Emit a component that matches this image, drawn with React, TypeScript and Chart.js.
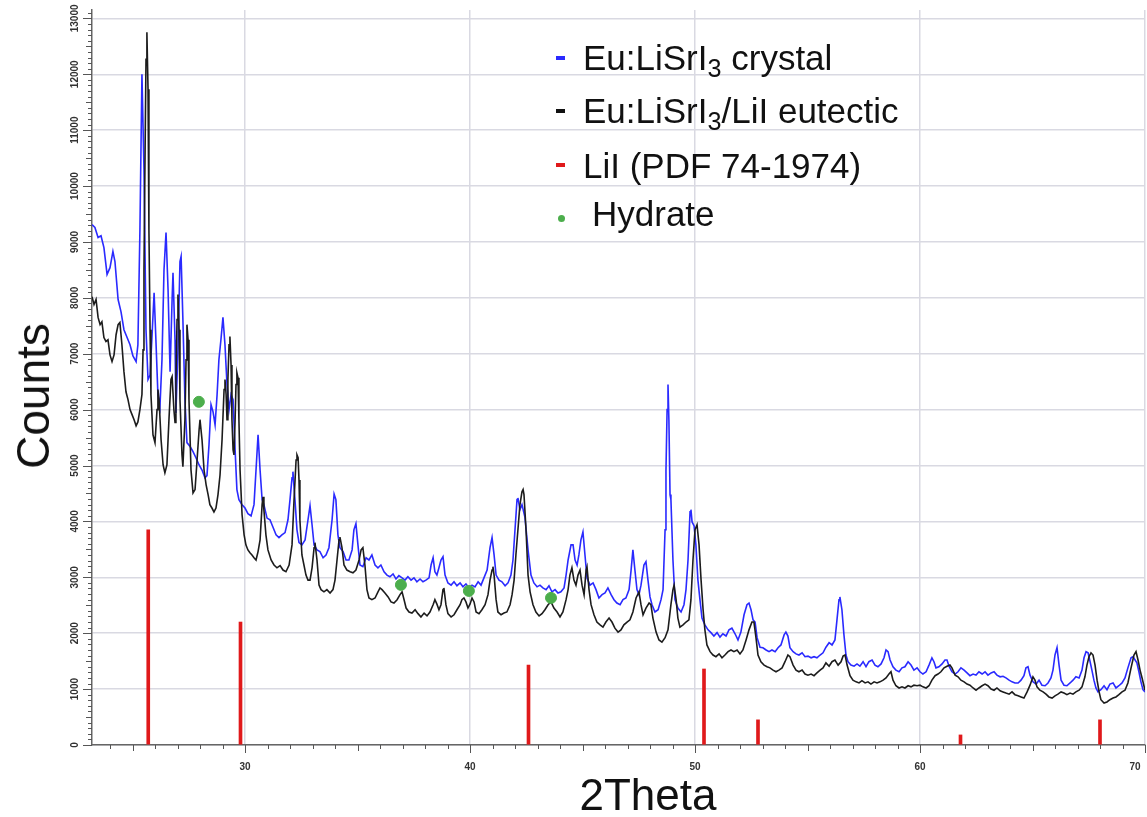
import React, { useEffect, useRef } from "react";
import { Chart, registerables } from "chart.js";

Chart.register(...registerables);

// ---------------- data ----------------
const X_MIN = 23.2;
const X_MAX = 70;
const Y_MIN = 0;
const Y_MAX = 13150;

const xTickValues = [30, 40, 50, 60, 70];
const yTickValues = [0, 1000, 2000, 3000, 4000, 5000, 6000, 7000, 8000, 9000, 10000, 11000, 12000, 13000];

// Eu:LiSrI3 crystal  [2theta, counts]
const crystalData: [number, number][] = [
  [23.20,9310],[23.33,9260],[23.47,9080],[23.60,9110],[23.73,8900],[23.87,8420],[24.00,8540],[24.13,8830],[24.22,8650],[24.36,7970],
  [24.49,7750],[24.62,7430],[24.76,7290],[24.89,7160],[25.02,6960],[25.16,6860],[25.24,7160],[25.33,9220],[25.42,12000],[25.51,10300],
  [25.60,7430],[25.69,6540],[25.78,6620],[25.87,7340],[25.96,8090],[26.04,7250],[26.13,6270],[26.22,6050],[26.31,6890],[26.40,8500],
  [26.49,9170],[26.58,8150],[26.67,6680],[26.76,7970],[26.80,8450],[26.89,7250],[26.93,5940],[27.02,7070],[27.11,8650],[27.16,8740],
  [27.24,7610],[27.33,6180],[27.42,5410],[27.56,5340],[27.69,5250],[27.82,5140],[27.96,5010],[28.09,4920],[28.22,4780],[28.31,4820],
  [28.40,5370],[28.49,6090],[28.58,5960],[28.67,5730],[28.76,6270],[28.84,6890],[28.93,7250],[29.02,7650],[29.11,7160],[29.20,6450],
  [29.29,6000],[29.38,6270],[29.47,6180],[29.56,5280],[29.64,4570],[29.73,4390],[29.87,4300],[30.00,4240],[30.13,4140],[30.27,4100],
  [30.40,4300],[30.49,4920],[30.58,5550],[30.67,4920],[30.76,4390],[30.84,4300],[30.98,4060],[31.11,4030],[31.24,3900],[31.38,3760],
  [31.51,3710],[31.64,3760],[31.78,3800],[31.91,4030],[32.00,4390],[32.09,4780],[32.13,4890],[32.22,4390],[32.31,3850],[32.40,3620],
  [32.53,3580],[32.67,3670],[32.80,4030],[32.89,4280],[32.98,3940],[33.07,3580],[33.20,3490],[33.33,3460],[33.47,3350],[33.60,3400],
  [33.73,3530],[33.87,4030],[33.96,4490],[34.04,4390],[34.13,3760],[34.22,3530],[34.36,3460],[34.49,3310],[34.62,3310],[34.76,3490],
  [34.84,3850],[34.93,3960],[35.02,3580],[35.11,3220],[35.24,3190],[35.38,3350],[35.51,3310],[35.64,3400],[35.78,3220],[35.91,3170],
  [36.04,3220],[36.18,3100],[36.31,3040],[36.44,3010],[36.58,3060],[36.71,2970],[36.84,3030],[36.98,2990],[37.11,2950],[37.24,3010],
  [37.38,2950],[37.51,2990],[37.64,2920],[37.78,2970],[37.91,2920],[38.04,2950],[38.18,2990],[38.27,3220],[38.36,3350],[38.44,3100],
  [38.53,3040],[38.62,3170],[38.71,3310],[38.80,3370],[38.89,3040],[39.02,2900],[39.16,2860],[39.29,2920],[39.42,2850],[39.56,2900],
  [39.69,2830],[39.82,2880],[39.96,2810],[40.09,2860],[40.22,2830],[40.36,2920],[40.49,2860],[40.62,2990],[40.76,3130],[40.89,3530],
  [40.98,3710],[41.07,3400],[41.16,3040],[41.29,2950],[41.42,2920],[41.56,2850],[41.69,2900],[41.82,3040],[41.91,3310],[42.00,3850],
  [42.09,4390],[42.13,4420],[42.22,4210],[42.31,4300],[42.44,4080],[42.58,3490],[42.71,3040],[42.84,2900],[42.98,2830],[43.11,2860],
  [43.24,2810],[43.38,2780],[43.51,2850],[43.64,2740],[43.78,2780],[43.91,2720],[44.04,2740],[44.18,2810],[44.27,3040],[44.36,3310],
  [44.49,3580],[44.58,3580],[44.67,3310],[44.76,3220],[44.84,3400],[44.93,3670],[45.02,3810],[45.11,3400],[45.20,2990],[45.33,2860],
  [45.47,2900],[45.60,2780],[45.73,2630],[45.87,2690],[46.00,2720],[46.13,2810],[46.27,2690],[46.40,2600],[46.53,2540],[46.67,2510],
  [46.80,2600],[46.93,2630],[47.07,2780],[47.16,3130],[47.24,3490],[47.33,3130],[47.42,2780],[47.51,2690],[47.60,2860],[47.73,3220],
  [47.82,3280],[47.91,2950],[48.00,2650],[48.09,2510],[48.22,2380],[48.36,2420],[48.49,2600],[48.58,2780],[48.67,3850],[48.71,4920],
  [48.76,6000],[48.80,6450],[48.84,5820],[48.89,4480],[48.93,4390],[49.02,3310],[49.11,2600],[49.24,2450],[49.38,2380],[49.51,2510],
  [49.60,2780],[49.69,3310],[49.78,4170],[49.82,4210],[49.87,3990],[49.96,3920],[50.04,3580],[50.13,2950],[50.22,2600],[50.31,2270],
  [50.44,2150],[50.58,2060],[50.71,2010],[50.84,1950],[50.98,2010],[51.11,1930],[51.24,1990],[51.38,1950],[51.51,2060],[51.64,2090],
  [51.78,1990],[51.91,1880],[52.04,2020],[52.18,2330],[52.31,2510],[52.40,2540],[52.49,2420],[52.58,2240],[52.67,2200],[52.76,1920],
  [52.89,1750],[53.02,1740],[53.16,1700],[53.29,1670],[53.42,1700],[53.56,1670],[53.69,1740],[53.82,1790],[53.96,1970],[54.04,2020],
  [54.13,1950],[54.22,1740],[54.36,1670],[54.49,1630],[54.62,1610],[54.76,1650],[54.89,1580],[55.02,1590],[55.16,1560],[55.29,1580],
  [55.42,1560],[55.56,1610],[55.69,1650],[55.82,1750],[55.96,1830],[56.09,1790],[56.22,1880],[56.31,2240],[56.40,2600],[56.44,2650],
  [56.53,2420],[56.62,1970],[56.71,1610],[56.80,1490],[56.93,1430],[57.07,1410],[57.20,1450],[57.33,1410],[57.47,1490],[57.60,1400],
  [57.73,1490],[57.87,1520],[58.00,1430],[58.13,1400],[58.27,1450],[58.40,1560],[58.49,1700],[58.58,1670],[58.67,1520],[58.80,1400],
  [58.93,1340],[59.07,1310],[59.20,1380],[59.33,1400],[59.47,1490],[59.60,1430],[59.73,1340],[59.87,1380],[60.00,1310],[60.13,1270],
  [60.27,1310],[60.40,1430],[60.53,1560],[60.62,1490],[60.71,1380],[60.84,1400],[60.98,1450],[61.11,1520],[61.20,1520],[61.29,1410],
  [61.42,1310],[61.56,1270],[61.69,1310],[61.82,1380],[61.96,1340],[62.09,1290],[62.22,1240],[62.36,1270],[62.49,1250],[62.62,1310],
  [62.76,1270],[62.89,1310],[63.02,1250],[63.16,1290],[63.29,1310],[63.42,1250],[63.56,1220],[63.69,1230],[63.82,1200],[63.96,1160],
  [64.09,1130],[64.22,1110],[64.36,1110],[64.49,1160],[64.62,1240],[64.71,1380],[64.80,1400],[64.89,1250],[65.02,1130],[65.16,1090],
  [65.29,1160],[65.42,1070],[65.56,1060],[65.69,1110],[65.82,1200],[65.91,1340],[66.00,1610],[66.09,1740],[66.18,1430],[66.27,1160],
  [66.40,1070],[66.53,1060],[66.67,1110],[66.80,1160],[66.93,1220],[67.07,1200],[67.20,1340],[67.29,1560],[67.38,1670],[67.47,1650],
  [67.56,1490],[67.64,1340],[67.73,1160],[67.82,1020],[67.91,950],[68.04,990],[68.18,1060],[68.31,990],[68.44,1090],[68.58,1110],
  [68.71,1020],[68.84,1060],[68.98,1110],[69.11,1200],[69.24,1380],[69.38,1560],[69.47,1580],[69.56,1520],[69.64,1470],[69.73,1310],
  [69.82,1130],[69.91,990],[70.00,950],
];

// Eu:LiSrI3/LiI eutectic  [2theta, counts]
const eutecticData: [number, number][] = [
  [23.20,8020],[23.29,7880],[23.38,7970],[23.47,7650],[23.56,7520],[23.64,7570],[23.73,7290],[23.82,7220],[23.91,7250],[24.00,6980],
  [24.09,6860],[24.18,6980],[24.27,7340],[24.36,7520],[24.44,7560],[24.53,7160],[24.62,6680],[24.71,6320],[24.80,6180],[24.89,6000],
  [24.98,5910],[25.07,5820],[25.16,5710],[25.24,5780],[25.33,6000],[25.42,6270],[25.47,7070],[25.51,8500],[25.56,10650],[25.60,12270],
  [25.64,12750],[25.69,11730],[25.73,9220],[25.78,7430],[25.82,6270],[25.91,5550],[26.00,5410],[26.09,6000],[26.13,6360],[26.18,6180],
  [26.27,5460],[26.36,5010],[26.44,4870],[26.53,5010],[26.62,5820],[26.71,6540],[26.76,6590],[26.84,6000],[26.89,5770],[26.93,6540],
  [26.98,7610],[27.02,8060],[27.07,7430],[27.11,6180],[27.20,5190],[27.24,4980],[27.33,5820],[27.38,6890],[27.42,7520],[27.47,7250],
  [27.51,6180],[27.60,4920],[27.69,4510],[27.78,4570],[27.87,5100],[27.96,5640],[28.00,5820],[28.09,5460],[28.18,4920],[28.27,4660],
  [28.36,4480],[28.44,4300],[28.53,4240],[28.62,4170],[28.71,4240],[28.80,4480],[28.89,4830],[28.98,5460],[29.07,6360],[29.11,6540],
  [29.16,6270],[29.20,5820],[29.24,6540],[29.29,7160],[29.33,7310],[29.38,6800],[29.42,5820],[29.47,5280],[29.51,5190],[29.56,5820],
  [29.60,6450],[29.64,6660],[29.69,6570],[29.73,5820],[29.78,4920],[29.87,4120],[29.96,3760],[30.04,3580],[30.13,3490],[30.22,3440],
  [30.31,3400],[30.40,3350],[30.49,3310],[30.58,3460],[30.67,3670],[30.76,4300],[30.80,4440],[30.84,4210],[30.93,3760],[31.02,3490],
  [31.16,3310],[31.29,3220],[31.42,3170],[31.56,3210],[31.69,3130],[31.82,3100],[31.96,3220],[32.09,3580],[32.18,4390],[32.27,5100],
  [32.31,5190],[32.36,5140],[32.40,4740],[32.44,4030],[32.53,3400],[32.62,3220],[32.71,3040],[32.80,2950],[32.89,2950],[32.98,3170],
  [33.07,3530],[33.11,3620],[33.20,3310],[33.29,2860],[33.38,2780],[33.51,2740],[33.64,2780],[33.78,2720],[33.91,2780],[34.00,2950],
  [34.09,3310],[34.18,3670],[34.22,3720],[34.31,3530],[34.40,3220],[34.53,3130],[34.67,3100],[34.80,3080],[34.93,3130],[35.07,3310],
  [35.16,3490],[35.24,3530],[35.33,3220],[35.42,2780],[35.51,2630],[35.64,2600],[35.78,2630],[35.91,2740],[36.00,2810],[36.09,2780],
  [36.22,2720],[36.36,2650],[36.49,2560],[36.62,2540],[36.76,2600],[36.89,2690],[36.98,2740],[37.07,2600],[37.16,2450],[37.29,2380],
  [37.42,2360],[37.56,2420],[37.69,2350],[37.82,2290],[37.96,2360],[38.09,2310],[38.22,2380],[38.36,2510],[38.44,2600],[38.53,2520],
  [38.62,2420],[38.71,2510],[38.80,2780],[38.84,2810],[38.93,2510],[39.02,2350],[39.16,2290],[39.29,2330],[39.42,2420],[39.56,2510],
  [39.64,2600],[39.73,2630],[39.82,2560],[39.91,2450],[40.00,2520],[40.09,2630],[40.18,2560],[40.27,2380],[40.40,2350],[40.53,2420],
  [40.67,2510],[40.80,2690],[40.89,2950],[40.98,3130],[41.02,3190],[41.07,3040],[41.16,2600],[41.24,2380],[41.38,2330],[41.51,2360],
  [41.64,2380],[41.78,2510],[41.87,2690],[41.96,2950],[42.04,3400],[42.13,3850],[42.22,4300],[42.31,4530],[42.36,4570],[42.40,4480],
  [42.49,3850],[42.58,3040],[42.67,2740],[42.80,2510],[42.93,2380],[43.07,2310],[43.20,2350],[43.33,2420],[43.47,2510],[43.60,2560],
  [43.73,2450],[43.87,2380],[44.00,2290],[44.13,2380],[44.27,2600],[44.36,2780],[44.44,3040],[44.53,3170],[44.62,2950],[44.71,2860],
  [44.80,3040],[44.89,3130],[44.98,2860],[45.07,2690],[45.16,3130],[45.20,3190],[45.29,2780],[45.38,2510],[45.51,2330],[45.64,2200],
  [45.78,2150],[45.91,2110],[46.04,2200],[46.18,2270],[46.31,2200],[46.44,2090],[46.58,2020],[46.71,2060],[46.84,2150],[46.98,2200],
  [47.11,2240],[47.24,2380],[47.38,2630],[47.51,2740],[47.60,2510],[47.69,2330],[47.82,2450],[47.96,2540],[48.04,2510],[48.13,2270],
  [48.27,2020],[48.40,1880],[48.53,1840],[48.67,1920],[48.80,2060],[48.93,2510],[49.02,2780],[49.07,2860],[49.16,2600],[49.24,2270],
  [49.33,2110],[49.47,2150],[49.60,2200],[49.73,2240],[49.82,2600],[49.91,3310],[50.00,3850],[50.09,3940],[50.18,3580],[50.27,2950],
  [50.36,2420],[50.44,2060],[50.53,1790],[50.67,1670],[50.80,1610],[50.93,1580],[51.07,1630],[51.20,1560],[51.33,1610],[51.47,1670],
  [51.60,1700],[51.73,1670],[51.87,1700],[52.00,1630],[52.13,1700],[52.27,1880],[52.40,2060],[52.53,2200],[52.62,2200],[52.71,1920],
  [52.80,1610],[52.93,1490],[53.07,1430],[53.20,1400],[53.33,1380],[53.47,1340],[53.60,1310],[53.73,1340],[53.87,1380],[54.00,1490],
  [54.13,1610],[54.22,1580],[54.36,1430],[54.49,1340],[54.62,1310],[54.76,1340],[54.89,1270],[55.02,1250],[55.16,1270],[55.29,1240],
  [55.42,1290],[55.56,1340],[55.69,1380],[55.82,1470],[55.96,1410],[56.09,1490],[56.22,1520],[56.36,1430],[56.49,1490],[56.58,1590],
  [56.67,1610],[56.76,1430],[56.89,1240],[57.02,1160],[57.16,1130],[57.29,1110],[57.42,1150],[57.56,1110],[57.69,1130],[57.82,1090],
  [57.96,1130],[58.09,1110],[58.22,1130],[58.36,1160],[58.49,1200],[58.62,1270],[58.71,1310],[58.80,1160],[58.93,1060],[59.07,1020],
  [59.20,1040],[59.33,1020],[59.47,1060],[59.60,1040],[59.73,1070],[59.87,1060],[60.00,1070],[60.13,1040],[60.27,1020],[60.40,1060],
  [60.53,1160],[60.67,1240],[60.80,1270],[60.93,1310],[61.07,1380],[61.20,1410],[61.33,1430],[61.42,1380],[61.56,1250],[61.69,1220],
  [61.82,1160],[61.96,1130],[62.09,1090],[62.22,1070],[62.36,1020],[62.49,980],[62.62,1020],[62.76,1060],[62.89,1090],[63.02,1060],
  [63.16,1000],[63.29,980],[63.42,1020],[63.56,970],[63.69,950],[63.82,930],[63.96,910],[64.09,950],[64.22,900],[64.36,880],
  [64.49,860],[64.62,840],[64.76,950],[64.89,1070],[65.02,1220],[65.11,1160],[65.20,1040],[65.33,980],[65.47,950],[65.60,910],
  [65.73,860],[65.87,840],[66.00,880],[66.13,910],[66.27,950],[66.40,930],[66.53,900],[66.67,930],[66.80,910],[66.93,950],
  [67.07,980],[67.20,1040],[67.33,1220],[67.42,1430],[67.51,1580],[67.60,1650],[67.69,1610],[67.78,1430],[67.87,1160],[67.96,950],
  [68.04,810],[68.18,750],[68.31,770],[68.44,810],[68.58,840],[68.71,860],[68.84,900],[68.98,950],[69.11,980],[69.24,1110],
  [69.38,1380],[69.51,1610],[69.60,1670],[69.69,1520],[69.78,1340],[69.87,1200],[70.00,980],
];

// LiI reference pattern (PDF 74-1974)
const liiTheta = [25.7, 29.8, 42.6, 50.4, 52.8, 61.8, 68.0];
const liiCounts = [3850, 2200, 1430, 1360, 450, 180, 450];

// Hydrate markers
const hydrateTheta = [27.95, 36.93, 39.95, 43.6];
const hydrateCounts = [6140, 2865, 2757, 2632];

// ---------------- styles ----------------
const FONT = "'Liberation Sans', Arial, Helvetica, sans-serif";
const BLUE = "#2a2aff";
const BLACK = "#1c1c1c";
const RED = "#e0191b";
const GREEN = "#4cae4c";
const GRID = "#d9d9e2";

const W = 1147;
const H = 817;
const PLOT_LEFT = 92;
const PLOT_BOTTOM = 745;

const minorTicksPlugin = {
  id: "minorTicks",
  afterDraw(chart: any) {
    const { ctx, chartArea } = chart;
    const xs = chart.scales.x;
    const ys = chart.scales.y;
    ctx.save();
    ctx.strokeStyle = "#555";
    ctx.lineWidth = 1;
    ctx.beginPath();
    for (let v = Y_MIN; v <= Y_MAX; v += 100) {
      const py = Math.round(ys.getPixelForValue(v)) + 0.5;
      const len = v % 1000 === 0 ? 9 : v % 500 === 0 ? 6 : 4;
      ctx.moveTo(chartArea.left - len, py);
      ctx.lineTo(chartArea.left, py);
    }
    for (let t = Math.ceil(X_MIN); t <= X_MAX; t += 1) {
      const px = Math.round(xs.getPixelForValue(t)) + 0.5;
      const len = t % 10 === 0 ? 8 : t % 5 === 0 ? 6 : 4;
      ctx.moveTo(px, chartArea.bottom);
      ctx.lineTo(px, chartArea.bottom + len);
    }
    ctx.stroke();
    ctx.restore();
  },
};

function ChartCanvas() {
  const ref = useRef<HTMLCanvasElement | null>(null);
  useEffect(() => {
    if (!ref.current) return;
    const chart = new Chart(ref.current, {
      type: "line",
      data: {
        datasets: [
          {
            type: "scatter",
            label: "Hydrate",
            data: hydrateTheta.map((x, i) => ({ x, y: hydrateCounts[i] })),
            pointRadius: 5.5,
            pointBackgroundColor: GREEN,
            pointBorderColor: GREEN,
            showLine: false,
          } as any,
          {
            label: "Eu:LiSrI3/LiI eutectic",
            data: eutecticData.map(([x, y]) => ({ x, y })),
            borderColor: BLACK,
            borderWidth: 1.6,
            pointRadius: 0,
            tension: 0,
          },
          {
            label: "Eu:LiSrI3 crystal",
            data: crystalData.map(([x, y]) => ({ x, y })),
            borderColor: BLUE,
            borderWidth: 1.6,
            pointRadius: 0,
            tension: 0,
          },
          {
            type: "bar",
            label: "LiI (PDF 74-1974)",
            data: liiTheta.map((x, i) => ({ x, y: liiCounts[i] })),
            backgroundColor: RED,
            barThickness: 3,
          } as any,
        ],
      },
      options: {
        animation: false,
        responsive: false,
        maintainAspectRatio: false,
        layout: { autoPadding: false, padding: { left: 0, right: 2, top: 10, bottom: 0 } },
        plugins: { legend: { display: false }, tooltip: { enabled: false } },
        scales: {
          x: {
            type: "linear",
            min: X_MIN,
            max: X_MAX,
            offset: false,
            afterBuildTicks: (s: any) => {
              s.ticks = xTickValues.map((v) => ({ value: v }));
            },
            afterFit: (s: any) => {
              s.height = H - PLOT_BOTTOM;
              s.paddingLeft = 0;
              s.paddingRight = 0;
            },
            grid: { color: GRID, lineWidth: 1.5, drawTicks: false, offset: false },
            border: { display: true, color: "#666", width: 1.5 },
            ticks: {
              autoSkip: false,
              maxRotation: 0,
              padding: 16,
              color: "#333",
              font: { family: FONT, size: 10, weight: "bold" },
              callback: (v: any) => (v === 70 ? "70\u2003\u2003" : String(v)),
            },
          },
          y: {
            type: "linear",
            min: Y_MIN,
            max: Y_MAX,
            afterBuildTicks: (s: any) => {
              s.ticks = yTickValues.map((v) => ({ value: v }));
            },
            afterFit: (s: any) => {
              s.width = PLOT_LEFT;
              s.paddingTop = 0;
              s.paddingBottom = 0;
            },
            grid: { color: GRID, lineWidth: 1.5, drawTicks: false, offset: false },
            border: { display: true, color: "#666", width: 1.5 },
            ticks: {
              autoSkip: false,
              minRotation: 90,
              maxRotation: 90,
              crossAlign: "center",
              padding: 3,
              color: "#333",
              font: { family: FONT, size: 10, weight: "bold" },
              callback: (v: any) => String(v),
            },
          },
        },
      } as any,
      plugins: [minorTicksPlugin],
    });
    return () => chart.destroy();
  }, []);
  return <canvas ref={ref} width={W} height={H} style={{ display: "block", width: W, height: H }} />;
}

const legendFont = 35;

function LegendRow(props: { y: number; textX: number; marker: React.ReactNode; children: React.ReactNode }) {
  return (
    <>
      {props.marker}
      <div
        style={{
          position: "absolute",
          left: props.textX,
          top: props.y - legendFont * 0.49,
          fontFamily: FONT,
          fontSize: legendFont,
          lineHeight: 1,
          whiteSpace: "nowrap",
          color: "#111",
        }}
      >
        {props.children}
      </div>
    </>
  );
}

function dash(y: number, color: string) {
  return (
    <div style={{ position: "absolute", left: 556, top: y - 1.5, width: 9, height: 4, background: color }} />
  );
}

export default function App() {
  const sub: React.CSSProperties = { fontSize: "0.72em", verticalAlign: "-0.28em", lineHeight: 0 };
  return (
    <div style={{ position: "fixed", left: 0, top: 0, width: W, height: H, background: "#fff", overflow: "hidden" }}>
      <ChartCanvas />
      <div
        style={{
          position: "absolute",
          left: 33,
          top: 396,
          transform: "translate(-50%, -50%) rotate(-90deg)",
          fontFamily: FONT,
          fontSize: 46,
          lineHeight: 1,
          whiteSpace: "nowrap",
          color: "#111",
        }}
      >
        Counts
      </div>
      <div
        style={{
          position: "absolute",
          left: 648,
          top: 795,
          transform: "translate(-50%, -50%)",
          fontFamily: FONT,
          fontSize: 44,
          lineHeight: 1,
          whiteSpace: "nowrap",
          color: "#111",
        }}
      >
        2Theta
      </div>
      <LegendRow y={57} textX={583} marker={dash(57, BLUE)}>
        Eu:LiSrI<span style={sub}>3</span> crystal
      </LegendRow>
      <LegendRow y={110} textX={583} marker={dash(110, "#111")}>
        Eu:LiSrI<span style={sub}>3</span>/LiI eutectic
      </LegendRow>
      <LegendRow y={165} textX={583} marker={dash(164, RED)}>
        LiI (PDF 74-1974)
      </LegendRow>
      <LegendRow
        y={213}
        textX={592}
        marker={
          <div
            style={{ position: "absolute", left: 558, top: 215, width: 7, height: 7, borderRadius: "50%", background: GREEN }}
          />
        }
      >
        Hydrate
      </LegendRow>
    </div>
  );
}
